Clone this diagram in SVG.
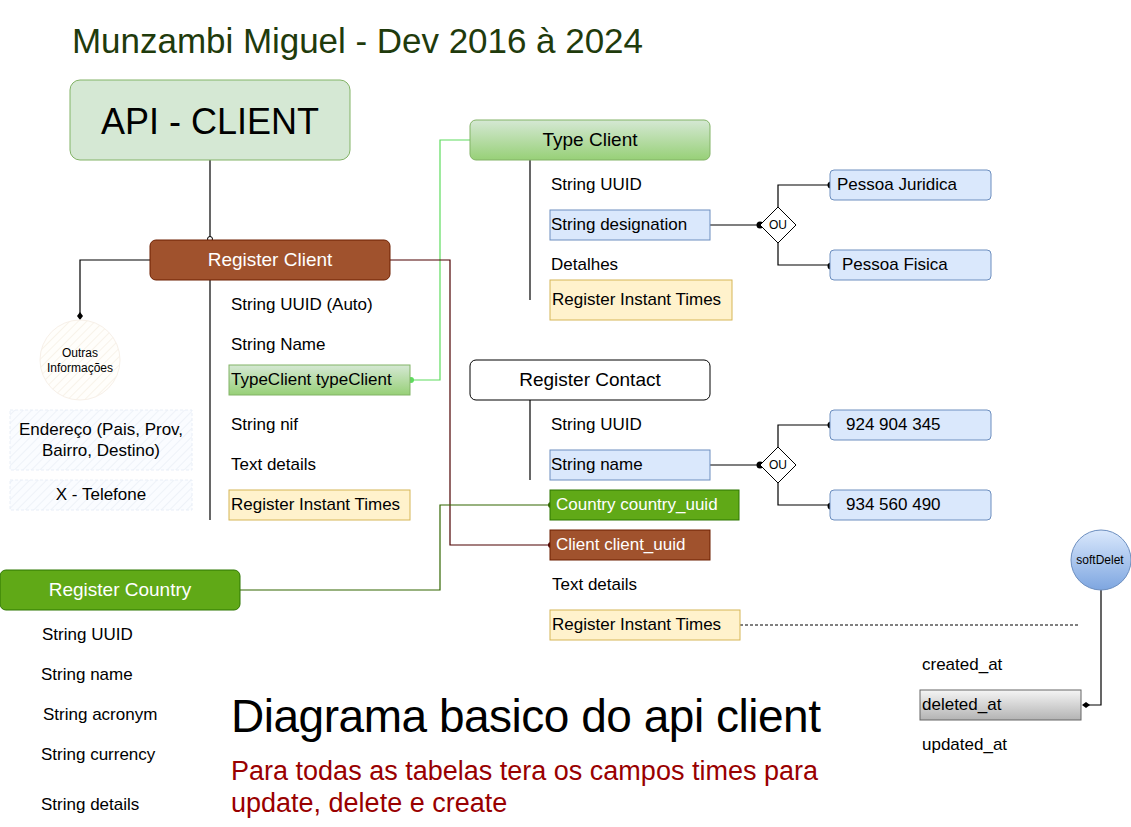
<svg xmlns="http://www.w3.org/2000/svg" width="1131" height="827" viewBox="0 0 1131 827">
<defs>
<linearGradient id="gGreen" x1="0" y1="0" x2="0" y2="1"><stop offset="0" stop-color="#d5e8d4"/><stop offset="1" stop-color="#97d077"/></linearGradient>
<linearGradient id="gBlue" x1="0" y1="0" x2="0" y2="1"><stop offset="0" stop-color="#dae8fc"/><stop offset="1" stop-color="#7ea6e0"/></linearGradient>
<linearGradient id="gGray" x1="0" y1="0" x2="0" y2="1"><stop offset="0" stop-color="#f5f5f5"/><stop offset="1" stop-color="#b3b3b3"/></linearGradient>
<pattern id="hatchB" width="6" height="6" patternUnits="userSpaceOnUse" patternTransform="rotate(45)"><rect width="6" height="6" fill="#fafcff"/><line x1="0" y1="0" x2="0" y2="6" stroke="#eef2f8" stroke-width="2"/></pattern>
<pattern id="hatchY" width="6" height="6" patternUnits="userSpaceOnUse" patternTransform="rotate(45)"><rect width="6" height="6" fill="#fffefb"/><line x1="0" y1="0" x2="0" y2="6" stroke="#f8f3ea" stroke-width="2"/></pattern>
</defs>
<style>
text{font-family:"Liberation Sans",Arial,sans-serif;fill:#000}
.f16{font-size:17px}
.f12{font-size:12px}
.f18{font-size:19px}
.w{fill:#fff}
.c{text-anchor:middle}
.blue{fill:#dae8fc;stroke:#6c8ebf;stroke-width:1}
.yel{fill:#fff2cc;stroke:#d6b656;stroke-width:1}
.brown{fill:#a0522d;stroke:#6d1f00;stroke-width:1}
.green{fill:#60a917;stroke:#2d7600;stroke-width:1}
.ln{fill:none;stroke:#000;stroke-width:1.2}
.dot{fill:#000}
</style>
<rect width="1131" height="827" fill="#fff"/>

<text x="72" y="53" font-size="35" style="fill:#1f3b0c" textLength="571">Munzambi Miguel - Dev 2016 à 2024</text>

<g id="connectors">
<path class="ln" d="M210 160 V237"/>
<circle cx="210" cy="239" r="2.5" fill="#fff" stroke="#000" stroke-width="1"/>
<path class="ln" d="M210 280 V520"/>
<path class="ln" d="M150 260 H80 V316"/>
<path d="M80 312 L83 316 L80 320 L77 316 Z" class="dot"/>
<path fill="none" stroke="#5edc5e" stroke-width="1.2" d="M410 380 H440 V140 H470"/>
<circle cx="411" cy="380" r="3" fill="#5edc5e"/>
<path fill="none" stroke="#4d0000" stroke-width="1.2" d="M390 260 H450 V545 H550"/>
<circle cx="551" cy="545" r="3" fill="#4d0000"/>
<path fill="none" stroke="#336600" stroke-width="1.2" d="M240 590 H440 V505 H550"/>
<circle cx="551" cy="505" r="3" fill="#336600"/>
<path class="ln" d="M530 160 V300"/>
<path class="ln" d="M530 400 V480"/>
<path class="ln" d="M710 225 H760 M778 207 V185 H830 M778 243 V265 H830"/>
<circle class="dot" cx="760" cy="225" r="3.5"/>
<circle class="dot" cx="831" cy="185" r="3.5"/>
<circle class="dot" cx="831" cy="266" r="3.5"/>
<path class="ln" d="M710 465 H760 M778 447 V425 H830 M778 483 V505 H830"/>
<circle class="dot" cx="760" cy="465" r="3.5"/>
<circle class="dot" cx="831" cy="425" r="3.5"/>
<circle class="dot" cx="831" cy="506" r="3.5"/>
<path fill="none" stroke="#000" stroke-width="1" stroke-dasharray="3,2" d="M740 625 H1080"/>
<path class="ln" d="M1101 590 V705 H1086"/>
<path d="M1082 705 L1086 702 L1090 705 L1086 708 Z" class="dot"/>
</g>

<g id="api-client">
<rect x="70" y="80" width="280" height="80" rx="10" fill="#d5e8d4" stroke="#82b366"/>
<text x="210" y="134" font-size="36" class="c">API - CLIENT</text>
</g>

<g id="register-client">
<rect x="150" y="240" width="240" height="40" rx="6" class="brown"/>
<text x="270" y="266" class="f18 c w">Register Client</text>
<text x="231" y="310" class="f16">String UUID (Auto)</text>
<text x="231" y="350" class="f16">String Name</text>
<rect x="229" y="365" width="181" height="30" fill="url(#gGreen)" stroke="#82b366"/>
<text x="231" y="385" class="f16">TypeClient typeClient</text>
<text x="231" y="430" class="f16">String nif</text>
<text x="231" y="470" class="f16">Text details</text>
<rect x="229" y="490" width="181" height="30" class="yel"/>
<text x="231" y="510" class="f16">Register Instant Times</text>
</g>

<g id="outras">
<circle cx="80" cy="360" r="40" fill="url(#hatchY)" stroke="#f7f0e8" stroke-width="1"/>
<text x="80" y="357" class="f12 c">Outras</text>
<text x="80" y="372" class="f12 c">Informações</text>
</g>

<g id="endereco">
<rect x="10" y="410" width="182" height="60" fill="url(#hatchB)" stroke="#e8eef7" stroke-dasharray="3,2"/>
<text x="101" y="435" class="f16 c">Endereço (Pais, Prov,</text>
<text x="101" y="456" class="f16 c">Bairro, Destino)</text>
</g>

<g id="telefone">
<rect x="10" y="480" width="182" height="30" fill="url(#hatchB)" stroke="#e8eef7" stroke-dasharray="3,2"/>
<text x="101" y="500" class="f16 c">X - Telefone</text>
</g>

<g id="type-client">
<rect x="470" y="120" width="240" height="40" rx="6" fill="url(#gGreen)" stroke="#82b366"/>
<text x="590" y="146" class="f18 c">Type Client</text>
<text x="551" y="190" class="f16">String UUID</text>
<rect x="550" y="210" width="160" height="30" class="blue"/>
<text x="551" y="230" class="f16">String designation</text>
<text x="551" y="270" class="f16">Detalhes</text>
<rect x="550" y="280" width="182" height="40" class="yel"/>
<text x="552" y="305" class="f16">Register Instant Times</text>
</g>

<g id="ou-type">
<path d="M778 207 L796 225 L778 243 L760 225 Z" fill="#fff" stroke="#000" stroke-width="1"/>
<text x="778" y="229" class="f12 c">OU</text>
</g>

<g id="pessoa-juridica">
<rect x="830" y="170" width="161" height="30" rx="4" class="blue"/>
<text x="837" y="190" class="f16">Pessoa Juridica</text>
</g>

<g id="pessoa-fisica">
<rect x="830" y="250" width="161" height="30" rx="4" class="blue"/>
<text x="842" y="270" class="f16">Pessoa Fisica</text>
</g>

<g id="register-contact">
<rect x="470" y="360" width="240" height="40" rx="6" fill="#fff" stroke="#000"/>
<text x="590" y="386" class="f18 c">Register Contact</text>
<text x="551" y="430" class="f16">String UUID</text>
<rect x="550" y="450" width="160" height="30" class="blue"/>
<text x="551" y="470" class="f16">String name</text>
<rect x="550" y="490" width="189" height="30" class="green"/>
<text x="556" y="510" class="f16 w">Country country_uuid</text>
<rect x="550" y="530" width="160" height="30" class="brown"/>
<text x="556" y="550" class="f16 w">Client client_uuid</text>
<text x="552" y="590" class="f16">Text details</text>
<rect x="550" y="610" width="190" height="30" class="yel"/>
<text x="552" y="630" class="f16">Register Instant Times</text>
</g>

<g id="ou-contact">
<path d="M778 447 L796 465 L778 483 L760 465 Z" fill="#fff" stroke="#000" stroke-width="1"/>
<text x="778" y="469" class="f12 c">OU</text>
</g>

<g id="phone1">
<rect x="830" y="410" width="161" height="30" rx="4" class="blue"/>
<text x="846" y="430" class="f16">924 904 345</text>
</g>

<g id="phone2">
<rect x="830" y="490" width="161" height="30" rx="4" class="blue"/>
<text x="846" y="510" class="f16">934 560 490</text>
</g>

<g id="register-country">
<rect x="0" y="570" width="240" height="40" rx="6" class="green"/>
<text x="120" y="596" class="f18 c w">Register Country</text>
<text x="42" y="640" class="f16">String UUID</text>
<text x="41" y="680" class="f16">String name</text>
<text x="43" y="720" class="f16">String acronym</text>
<text x="41" y="760" class="f16">String currency</text>
<text x="41" y="810" class="f16">String details</text>
</g>

<g id="softdelet">
<circle cx="1101" cy="560" r="30" fill="url(#gBlue)" stroke="#6c8ebf"/>
<text x="1100" y="564" class="f12 c">softDelet</text>
</g>

<g id="times">
<text x="922" y="670" class="f16">created_at</text>
<rect x="920" y="690" width="161" height="30" fill="url(#gGray)" stroke="#666"/>
<text x="922" y="710" class="f16">deleted_at</text>
<text x="922" y="750" class="f16">updated_at</text>
</g>

<g id="notes">
<text x="231" y="732" font-size="46" textLength="590">Diagrama basico do api client</text>
<text x="231" y="780" font-size="27" style="fill:#990000" textLength="587">Para todas as tabelas tera os campos times para</text>
<text x="231" y="812" font-size="27" style="fill:#990000">update, delete e create</text>
</g>
</svg>
